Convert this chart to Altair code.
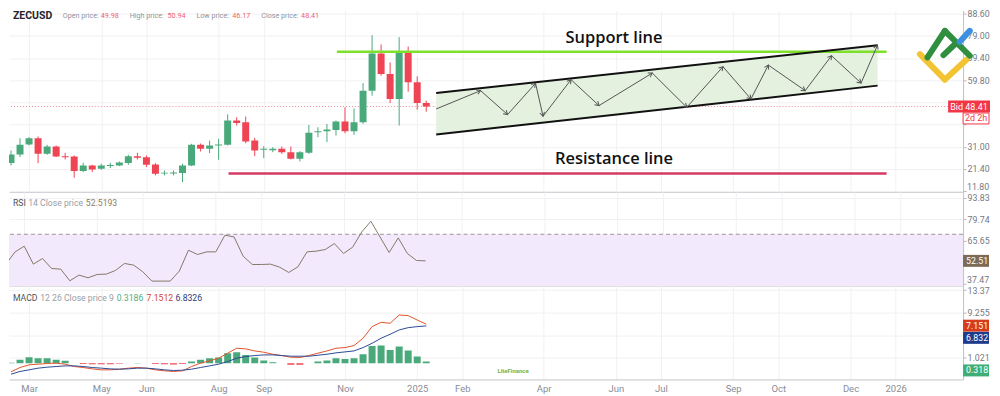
import math
import altair as alt
import pandas as pd

# ---------------- data ----------------
opens = [23.94, 27.68, 31.99, 34.72, 27.97, 31.13, 26.96, 26.82, 20.50, 22.94,
         21.50, 22.65, 22.94, 23.94, 26.96, 26.53, 23.37, 19.49, 19.49, 19.63,
         22.94, 31.85, 30.12, 31.56, 31.85, 42.33, 41.62, 33.71, 29.69, 29.55,
         30.12, 28.68, 25.81, 28.40, 37.31, 37.74, 38.31, 41.90, 37.74, 41.62,
         55.27, 71.36, 62.45, 51.67, 72.08, 58.86, 49.98]
highs = [29.40, 34.72, 35.15, 35.44, 31.85, 31.56, 28.40, 27.25, 24.09, 23.23,
         23.66, 24.09, 24.66, 27.54, 28.40, 27.25, 23.94, 20.78, 20.78, 23.66,
         32.28, 32.42, 33.71, 34.43, 45.06, 43.77, 44.06, 34.86, 31.27, 30.84,
         31.13, 31.13, 29.12, 40.47, 39.46, 40.90, 42.33, 48.08, 47.65, 58.57,
         79.26, 75.24, 67.48, 78.40, 74.37, 61.44, 50.94]
lows = [22.94, 26.53, 31.56, 23.94, 27.54, 26.53, 25.52, 17.62, 20.06, 20.06,
        21.07, 21.79, 22.65, 23.23, 25.52, 22.22, 18.63, 18.63, 18.63, 15.75,
        22.65, 28.97, 28.25, 25.38, 31.56, 40.18, 32.56, 26.96, 26.10, 28.68,
        27.97, 25.52, 24.66, 27.97, 35.15, 33.00, 35.87, 36.87, 36.16, 40.90,
        53.11, 61.73, 49.95, 40.18, 54.83, 47.08, 46.17]
closes = [27.68, 31.85, 34.72, 27.97, 31.13, 26.82, 26.53, 20.50, 22.94, 21.21,
          22.94, 23.08, 24.23, 26.96, 26.24, 23.23, 19.35, 19.78, 19.92, 22.94,
          31.85, 30.12, 31.56, 31.99, 42.33, 41.33, 33.28, 29.40, 30.12, 30.12,
          28.68, 25.81, 28.68, 37.02, 37.74, 38.45, 41.90, 37.74, 41.62, 55.27,
          71.36, 62.45, 51.67, 72.08, 58.86, 49.95, 48.41]
rsi_vals = [50.36, 58.44, 62.16, 50.36, 54.07, 47.52, 47.08, 39.44, 43.15, 41.40,
            43.59, 43.81, 46.21, 50.80, 49.70, 45.34, 39.22, 39.22, 39.22, 45.77,
            59.53, 56.69, 58.44, 58.44, 69.36, 68.27, 55.60, 50.14, 50.14, 50.36,
            48.39, 44.90, 48.61, 58.44, 58.88, 59.97, 63.90, 57.35, 61.50, 71.55,
            78.54, 68.27, 58.00, 67.62, 57.35, 52.76, 52.52]
macd_hist = [0.10, 0.61, 1.10, 0.91, 0.91, 0.61, 0.43, 0.00, -0.15, -0.20,
             -0.20, -0.20, -0.10, 0.00, 0.05, 0.00, -0.15, -0.20, -0.25, -0.15,
             0.30, 0.61, 0.91, 1.03, 1.83, 2.00, 1.52, 1.03, 0.49, 0.18,
             0.00, -0.30, -0.30, 0.00, 0.30, 0.49, 0.91, 0.79, 0.91, 1.64,
             3.17, 3.23, 2.43, 3.04, 2.31, 1.22, 0.3186]
macd_line = [-1.58, -0.79, -0.30, -0.18, -0.06, 0.00, -0.18, -0.61, -0.79, -1.04,
             -1.22, -1.22, -1.10, -0.91, -0.79, -0.91, -1.22, -1.40, -1.52, -1.40,
             -0.61, 0.00, 0.43, 0.91, 1.83, 2.74, 2.62, 2.25, 2.01, 1.64,
             1.40, 1.10, 1.04, 1.40, 1.83, 2.25, 2.74, 2.86, 3.23, 4.57,
             6.70, 7.49, 7.31, 8.83, 8.71, 7.91, 7.1512]
signal_line = [-2.01, -1.52, -1.22, -0.91, -0.73, -0.61, -0.49, -0.49, -0.61, -0.79,
               -0.91, -1.04, -1.10, -1.04, -0.91, -0.91, -1.04, -1.22, -1.34, -1.28,
               -1.10, -0.79, -0.49, -0.18, 0.30, 0.91, 1.22, 1.40, 1.52, 1.52,
               1.40, 1.28, 1.28, 1.28, 1.46, 1.64, 1.89, 2.07, 2.25, 2.86,
               3.65, 4.57, 5.30, 6.09, 6.51, 6.70, 6.8326]

x_tick_pos = [2, 10, 15, 23, 28, 37, 45, 50, 59, 67, 72, 80, 85, 93, 98]
x_tick_lab = ["Mar", "May", "Jun", "Aug", "Sep", "Nov", "2025", "Feb", "Apr",
              "Jun", "Jul", "Sep", "Oct", "Dec", "2026"]
price_ticks = [11.8, 21.4, 31.0, 40.6, 50.2, 59.8, 69.4, 79.0, 88.6]
price_hidden = [11.8, 40.6, 50.2]
price_edge = [11.8]
price_edge_lab = ["11.80"]
rsi_ticks = [37.479, 51.567, 65.655, 79.743, 93.8316]
rsi_hidden = [37.479, 51.567]
rsi_edge = [37.479]
rsi_edge_lab = ["37.47"]
macd_ticks = [-3.093, 1.0218, 5.1384, 9.255, 13.3716]
macd_hidden = [5.1384]

support_i = [36.1, 97.0]
support_p = [72.09, 72.09]
resist_i = [24.1, 97.0]
resist_p = [19.42, 19.42]
chan_i = [47.1, 96.0]
chan_top = [54.25, 74.94]
chan_bot = [36.32, 57.44]
zz_i = [47.10, 52.02, 55.01, 58.11, 58.94, 62.04, 65.14, 71.04, 74.86, 78.87,
        81.97, 83.90, 87.98, 90.90, 94.17, 95.99]
zz_p = [47.35, 55.28, 44.94, 58.43, 44.20, 60.02, 48.81, 62.87, 48.08, 65.63,
        51.66, 66.32, 55.28, 70.37, 58.56, 74.94]
bid_price = 48.41
rsi_band = [30, 70]
ann_text = ["Support line", "Resistance line"]
ann_i = [66.8, 66.8]
ann_p = [78.2, 25.6]

# ---------------- layout / style ----------------
W = 957
H_PRICE, H_RSI, H_MACD = 182, 94, 94
X_DOMAIN = [0.33, 104.92]
PRICE_DOMAIN = [11.44, 89.89]
RSI_DOMAIN = [36.17, 97.76]
MACD_DOMAIN = [-2.98, 14.19]
GREEN = "#4aa97b"
RED = "#ef4454"
FONT = "Roboto"
GRID = "#f1f1f3"
AX_FS = 8.8
AX_COLOR = "#75787f"

xs = alt.Scale(domain=X_DOMAIN, nice=False, zero=False)
x_lab_expr = ("[" + ",".join("'%s'" % l for l in x_tick_lab) + "][indexof(["
              + ",".join(str(v) for v in x_tick_pos) + "], datum.value)]")
x_axis_hidden = alt.Axis(values=x_tick_pos, labels=False, ticks=False, grid=True,
                         gridColor=GRID, domain=True, domainColor="#d4d4d8", title=None)
x_axis_bottom = alt.Axis(values=x_tick_pos, labelExpr=x_lab_expr, ticks=False, grid=True,
                         gridColor=GRID, domain=True, domainColor="#c4c4c8", title=None,
                         labelColor="#8a8d96", labelFont=FONT, labelFontSize=9.5,
                         labelPadding=4, labelFlush=False)


def hide_expr(hidden, cut):
    return ("indexof([" + ",".join(str(v) for v in hidden) + "], datum.value) >= 0 ? '' : "
            "slice(datum.label, 0, %d)" % cut)


def yaxis(values, fmt, expr):
    return alt.Axis(orient="right", values=values, format=fmt, labelExpr=expr, title=None,
                    grid=True, gridColor=GRID, domainColor="#c2c2c6", tickColor="#b8b8bc",
                    tickSize=3, labelColor=AX_COLOR, labelFont=FONT, labelFontSize=AX_FS,
                    labelPadding=1, labelOverlap=False)


price_scale = alt.Scale(domain=PRICE_DOMAIN, nice=False, zero=False)
rsi_scale = alt.Scale(domain=RSI_DOMAIN, nice=False, zero=False)
macd_scale = alt.Scale(domain=MACD_DOMAIN, nice=False, zero=False)
price_axis = yaxis(price_ticks, ".2f", hide_expr(price_hidden, 5))
rsi_axis = yaxis(rsi_ticks, ".4f", hide_expr(rsi_hidden, 5))
macd_axis = yaxis(macd_ticks, ".4f", hide_expr(macd_hidden, 5))


def X(field, bottom=False):
    return alt.X(field, type="quantitative", scale=xs, axis=x_axis_bottom if bottom else x_axis_hidden)


def PY(field):
    return alt.Y(field, type="quantitative", scale=price_scale, axis=price_axis)


def RY(field):
    return alt.Y(field, type="quantitative", scale=rsi_scale, axis=rsi_axis)


def MY(field):
    return alt.Y(field, type="quantitative", scale=macd_scale, axis=macd_axis)


def rect_path(w, h):
    k = w / h
    return "M%.3f,-1H%.3fV1H%.3fZ" % (-k, k, -k)


def label_text(x, y, text, color, size=8.5, weight="normal", fnt=FONT):
    return alt.Chart(pd.DataFrame({"t": [text]})).mark_text(
        align="left", baseline="middle", font=fnt, fontSize=size, fontWeight=weight,
        color=color).encode(x=alt.value(x), y=alt.value(y), text="t:N")


def edge_labels(vals, labs, yenc):
    df = pd.DataFrame({"v": vals, "t": labs})
    return alt.Chart(df).mark_text(align="left", baseline="bottom", font=FONT, fontSize=AX_FS,
                                   color=AX_COLOR, dy=1).encode(
        x=alt.value(961), y=yenc("v"), text="t:N")


# ---------------- frames ----------------
candles = pd.DataFrame({"i": list(range(len(opens))), "open": opens, "high": highs,
                        "low": lows, "close": closes})
candles["dir"] = ["up" if c >= o else "down" for o, c in zip(opens, closes)]
dir_color = alt.Color("dir:N", scale=alt.Scale(domain=["up", "down"], range=[GREEN, RED]), legend=None)

px_x = W / (X_DOMAIN[1] - X_DOMAIN[0])
px_y = H_PRICE / (PRICE_DOMAIN[1] - PRICE_DOMAIN[0])
angles = []
for k in range(1, len(zz_i)):
    dx = (zz_i[k] - zz_i[k - 1]) * px_x
    dy = -(zz_p[k] - zz_p[k - 1]) * px_y
    angles.append(math.degrees(math.atan2(dx, -dy)) % 360)

zz_df = pd.DataFrame({"i": zz_i, "p": zz_p, "o": list(range(len(zz_i)))})
heads_df = pd.DataFrame({"i": zz_i[1:], "p": zz_p[1:], "ang": angles})
chan_df = pd.DataFrame({"i": chan_i, "top": chan_top, "bot": chan_bot})
sup_df = pd.DataFrame({"i": support_i, "p": support_p})
res_df = pd.DataFrame({"i": resist_i, "p": resist_p})
ann_df = pd.DataFrame({"i": ann_i, "p": ann_p, "t": ann_text})
bid_df = pd.DataFrame({"p": [bid_price]})

# ---------------- price panel ----------------
price_layers = [
    alt.Chart(bid_df).mark_rule(color="#f08a92", strokeWidth=1, strokeDash=[1, 2]).encode(y=PY("p")),
    alt.Chart(chan_df).mark_area(color="#e4f1df", opacity=1, clip=True).encode(
        x=X("i"), y=PY("top"), y2="bot:Q"),
    alt.Chart(candles).mark_rule(strokeWidth=1, clip=True).encode(
        x=X("i"), y=PY("low"), y2="high:Q", color=dir_color),
    alt.Chart(candles).mark_bar(size=7, clip=True).encode(
        x=X("i"), y=PY("open"), y2="close:Q", color=dir_color),
    alt.Chart(sup_df).mark_line(color="#7ee02a", strokeWidth=2.5, clip=True).encode(x=X("i"), y=PY("p")),
    alt.Chart(res_df).mark_line(color="#d43a63", strokeWidth=2.5, clip=True).encode(x=X("i"), y=PY("p")),
    alt.Chart(chan_df).mark_line(color="#111111", strokeWidth=2, clip=True).encode(x=X("i"), y=PY("top")),
    alt.Chart(chan_df).mark_line(color="#111111", strokeWidth=2, clip=True).encode(x=X("i"), y=PY("bot")),
    alt.Chart(zz_df).mark_line(color="#555555", strokeWidth=1, clip=True).encode(
        x=X("i"), y=PY("p"), order="o:Q"),
    alt.Chart(heads_df).mark_point(shape="M-0.8,1.3L0,0L0.8,1.3", size=36, filled=False,
                                   opacity=1, strokeWidth=1, color="#555555").encode(
        x=X("i"), y=PY("p"), angle=alt.Angle("ang:Q", scale=None)),
    alt.Chart(ann_df).mark_text(font="Open Sans", fontSize=16.5, fontWeight=600, color="#111111",
                                align="center", baseline="middle").encode(
        x=X("i"), y=PY("p"), text="t:N"),
    edge_labels(price_edge, price_edge_lab, PY),
    # bid badges
    alt.Chart(bid_df).mark_point(shape=rect_path(42, 12), size=144, filled=True, opacity=1,
                                 strokeWidth=0, color="#f23645").encode(x=alt.value(963), y=PY("p")),
    alt.Chart(bid_df).mark_text(font=FONT, fontSize=9, color="white", align="center",
                                baseline="middle").encode(x=alt.value(963), y=PY("p"),
                                                          text=alt.value("Bid 48.41")),
    alt.Chart(bid_df).mark_point(shape=rect_path(26, 11), size=121, filled=False, opacity=1,
                                 strokeWidth=1, color="#f23645", fill="white", yOffset=12).encode(
        x=alt.value(970), y=PY("p")),
    alt.Chart(bid_df).mark_text(font=FONT, fontSize=9, color="#f23645", align="center",
                                baseline="middle", yOffset=12).encode(
        x=alt.value(970), y=PY("p"), text=alt.value("2d 2h")),
    # header
    label_text(4, 5, "ZECUSD", "#1f2430", size=10.5, weight="bold"),
    label_text(54, 5, "Open price:", "#8f939c", size=7.2),
    label_text(92, 5, "49.98", "#f0606a", size=7.2),
    label_text(121, 5, "High price:", "#8f939c", size=7.2),
    label_text(159, 5, "50.94", "#f0606a", size=7.2),
    label_text(188, 5, "Low price:", "#8f939c", size=7.2),
    label_text(224, 5, "46.17", "#f0606a", size=7.2),
    label_text(253, 5, "Close price:", "#8f939c", size=7.2),
    label_text(293, 5, "48.41", "#f0606a", size=7.2),
]

# logo (decoration, pixel segments)
logo_segments = [
    (913.7, 43.7, 938.7, 69.3, "#f2c332"), (938.7, 69.3, 960.3, 49.3, "#f2c332"),
    (921.3, 47.0, 938.7, 20.3, "#2f8f3f"), (938.7, 20.3, 963.7, 45.3, "#2f8f3f"),
    (937.3, 44.7, 949.3, 33.3, "#2f8f3f"),
    (953.7, 31.3, 963.7, 20.3, "#3d8fe0"),
]
for (a, b, c, d, col) in logo_segments:
    price_layers.append(
        alt.Chart(bid_df).mark_rule(strokeWidth=6, strokeCap="round", color=col).encode(
            x=alt.value(a), y=alt.value(b), x2=alt.value(c), y2=alt.value(d)))

price_panel = alt.layer(*price_layers).properties(width=W, height=H_PRICE)

# ---------------- RSI panel ----------------
rsi_df = pd.DataFrame({"i": list(range(len(rsi_vals))), "v": rsi_vals})
band_df = pd.DataFrame({"lo": [rsi_band[0]], "hi": [rsi_band[1]], "val": [rsi_vals[-1]]})
rsi_layers = [
    alt.Chart(band_df).mark_rect(color="#f3e9fc", clip=True).encode(
        x=alt.value(0), x2=alt.value(W), y=RY("hi"), y2="lo:Q"),
    alt.Chart(band_df).mark_rule(color="#a0959a", strokeWidth=1, strokeDash=[4, 3]).encode(y=RY("hi")),
    alt.Chart(rsi_df).mark_line(color="#857868", strokeWidth=1, clip=True).encode(x=X("i"), y=RY("v")),
    edge_labels(rsi_edge, rsi_edge_lab, RY),
    alt.Chart(band_df).mark_point(shape=rect_path(26, 12), size=144, filled=True, opacity=1,
                                  strokeWidth=0, color="#7d6a55").encode(x=alt.value(970), y=RY("val")),
    alt.Chart(band_df).mark_text(font=FONT, fontSize=AX_FS, color="white", align="left",
                                 baseline="middle").encode(x=alt.value(960), y=RY("val"),
                                                           text=alt.value("52.51")),
    label_text(4, 11, "RSI", "#4f535c", size=8.7),
    label_text(19.3, 11, "14 Close price", "#9a9da5", size=8.7),
    label_text(77, 11, "52.5193", "#8b7a66", size=8.7),
]
rsi_panel = alt.layer(*rsi_layers).properties(width=W, height=H_RSI)

# ---------------- MACD panel ----------------
macd_df = pd.DataFrame({"i": list(range(len(macd_hist))), "h": macd_hist, "zero": [0.0] * len(macd_hist),
                        "m": macd_line, "s": signal_line})
macd_df["sign"] = ["pos" if h >= 0 else "neg" for h in macd_hist]
badge_df = pd.DataFrame({"v": [macd_line[-1], signal_line[-1], macd_hist[-1]],
                         "t": ["7.151", "6.832", "0.318"],
                         "c": ["#d63c1c", "#1f3b8c", "#3fae76"]})


def macd_badge(k, yoff):
    row = badge_df.iloc[[k]]
    return [
        alt.Chart(row).mark_point(shape=rect_path(26, 12), size=144, filled=True, opacity=1,
                                  strokeWidth=0, color=row["c"].iloc[0], yOffset=yoff).encode(
            x=alt.value(970), y=MY("v")),
        alt.Chart(row).mark_text(font=FONT, fontSize=AX_FS, color="white", align="left",
                                 baseline="middle", yOffset=yoff).encode(
            x=alt.value(960), y=MY("v"), text="t:N"),
    ]


macd_layers = [
    alt.Chart(macd_df).mark_bar(size=7, clip=True).encode(
        x=X("i", bottom=True), y=MY("h"), y2="zero:Q",
        color=alt.Color("sign:N", scale=alt.Scale(domain=["pos", "neg"], range=["#4cae7f", "#f0405a"]),
                        legend=None)),
    alt.Chart(macd_df).mark_line(color="#e2552c", strokeWidth=1, clip=True).encode(
        x=X("i", bottom=True), y=MY("m")),
    alt.Chart(macd_df).mark_line(color="#2c4a96", strokeWidth=1, clip=True).encode(
        x=X("i", bottom=True), y=MY("s")),
]
macd_layers += macd_badge(0, 1.5) + macd_badge(1, 12) + macd_badge(2, 9)
macd_layers += [
    label_text(4, 12, "MACD", "#4f535c", size=8.7),
    label_text(31.3, 12, "12 26 Close price 9", "#9a9da5", size=8.7),
    label_text(108, 12, "0.3186", "#4cae7f", size=8.7),
    label_text(138, 12, "7.1512", "#d8431f", size=8.7),
    label_text(167, 12, "6.8326", "#2a3d7c", size=8.7),
    label_text(490, 86, "LiteFinance", "#79b340", size=6, weight="bold"),
]
macd_panel = alt.layer(*macd_layers).properties(width=W, height=H_MACD)

chart = alt.vconcat(price_panel, rsi_panel, macd_panel, spacing=0, bounds="flush",
                    padding=0, background="white").configure_view(strokeWidth=0)

chart.save("out.html", embed_options={"renderer": "svg", "actions": False})
